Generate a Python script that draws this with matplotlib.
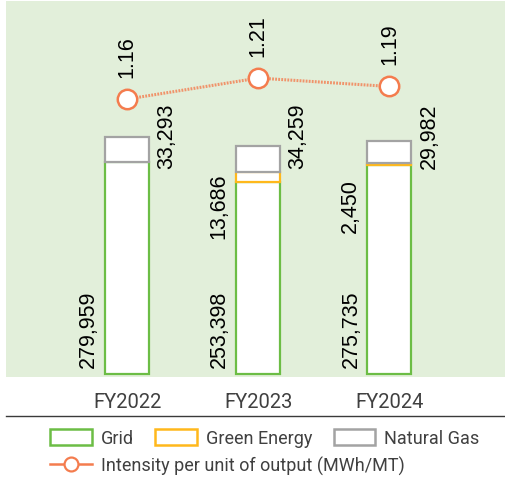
import matplotlib
matplotlib.use("Agg")
import matplotlib.pyplot as plt
from matplotlib.patches import Patch
from matplotlib.lines import Line2D

years = ["FY2022", "FY2023", "FY2024"]
grid = [279959, 253398, 275735]
green_energy = [0, 13686, 2450]
natural_gas = [33293, 34259, 29982]
intensity = [1.16, 1.21, 1.19]

green_labels = ["", "13,686", "2,450"]

BG = "#e2efda"
C_GRID = "#6cbd45"
C_GREEN = "#ffb81c"
C_GAS = "#a3a3a3"
C_LINE = "#f47c4e"
TXT = "#404040"
UI_FONT = "Roboto"
NUM_FONT = "Liberation Sans"

W, H = 506, 481
fig = plt.figure(figsize=(W / 100, H / 100), dpi=100)
ax = fig.add_axes([6 / W, 1 - 378 / H, 1 - 6 / W, 376 / H])
ax.set_facecolor(BG)

x = list(range(len(years)))
width = 0.336
bottom2 = [g for g in grid]
bottom3 = [g + e for g, e in zip(grid, green_energy)]

ax.bar(x, grid, width, color="white", edgecolor=C_GRID, linewidth=1.6, zorder=2)
for i in x:
    if green_energy[i] > 0:
        ax.bar(i, green_energy[i], width, bottom=bottom2[i], color="white",
               edgecolor=C_GREEN, linewidth=1.6, zorder=2)
ax.bar(x, natural_gas, width, bottom=bottom3, color="white", edgecolor=C_GAS,
       linewidth=1.6, zorder=2)

ax.set_xlim(-0.924, 2.889)
ax.set_ylim(-4600, 493000)

for i in x:
    # grid value, left of the bar, sitting on the baseline
    ax.annotate(f"{grid[i]:,}", (i - width / 2, 0), xytext=(-6, 7),
                textcoords="offset pixels", rotation=90, ha="right", va="bottom",
                fontsize=15.5, family=NUM_FONT, color="black")
    # natural gas, right of the bar
    ax.annotate(f"{natural_gas[i]:,}", (i + width / 2, 315000), xytext=(7, 0),
                textcoords="offset pixels", rotation=90, ha="left", va="center",
                fontsize=15.5, family=NUM_FONT, color="black")
    if green_labels[i]:
        ax.annotate(green_labels[i], (i - width / 2, 223000), xytext=(-7, 0),
                    textcoords="offset pixels", rotation=90, ha="right",
                    va="center", fontsize=15.5, family=NUM_FONT, color="black")

ax.set_xticks(x)
ax.set_xticklabels(years, fontsize=14.5, family=UI_FONT, color=TXT)
ax.tick_params(axis="x", length=0, pad=11)
ax.set_yticks([])
for s in ax.spines.values():
    s.set_visible(False)

ax2 = ax.twinx()
ax2.set_ylim(0.5, 1.393)
ax2.plot(x, intensity, color=C_LINE, linewidth=2.2, linestyle=(0, (0.6, 0.4)),
         alpha=0.8, zorder=3)
ax2.plot(x, intensity, linestyle="none", marker="o", markersize=14,
         markerfacecolor="white", markeredgecolor=C_LINE, markeredgewidth=1.8,
         zorder=4)
for i in x:
    ax2.annotate(f"{intensity[i]:.2f}", (i, intensity[i]), xytext=(0, 22),
                 textcoords="offset pixels", rotation=90, ha="center",
                 va="bottom", fontsize=15.5, family=NUM_FONT, color="black")
ax2.set_yticks([])
for s in ax2.spines.values():
    s.set_visible(False)

# separator under the category labels
fig.add_artist(Line2D([6 / W, 1], [1 - 417 / H, 1 - 417 / H],
                      color="#3a3a3a", linewidth=1.0))

bar_handles = [
    Patch(facecolor="white", edgecolor=C_GRID, linewidth=1.8, label="Grid"),
    Patch(facecolor="white", edgecolor=C_GREEN, linewidth=1.8, label="Green Energy"),
    Patch(facecolor="white", edgecolor=C_GAS, linewidth=1.8, label="Natural Gas"),
]
leg1 = fig.legend(handles=bar_handles, loc="center left",
                  bbox_to_anchor=(50 / W, 1 - 439 / H), ncol=3, frameon=False,
                  borderpad=0, borderaxespad=0, handlelength=2.3,
                  handleheight=1.05, handletextpad=0.5, columnspacing=1.2,
                  prop={"family": UI_FONT, "size": 13})
for t in leg1.get_texts():
    t.set_color(TXT)

line_handle = Line2D([], [], color=C_LINE, linewidth=1.8, marker="o",
                     markersize=10, markerfacecolor="white",
                     markeredgecolor=C_LINE, markeredgewidth=1.6,
                     label="Intensity per unit of output (MWh/MT)")
leg2 = fig.legend(handles=[line_handle], loc="center left",
                  bbox_to_anchor=(50 / W, 1 - 466 / H), frameon=False,
                  borderpad=0, borderaxespad=0, handlelength=2.3,
                  handletextpad=0.5, prop={"family": UI_FONT, "size": 13})
for t in leg2.get_texts():
    t.set_color(TXT)

fig.savefig("out.png", dpi=100, facecolor="white")
